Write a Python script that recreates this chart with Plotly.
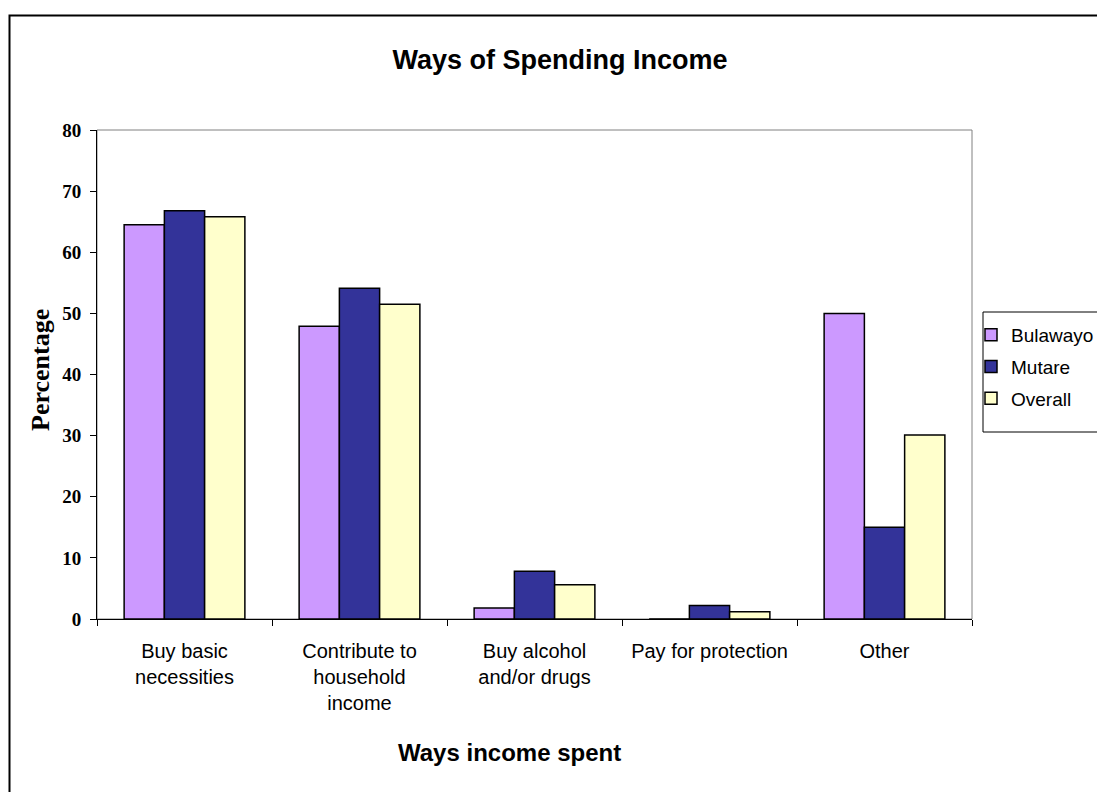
import plotly.graph_objects as go

categories = ["Buy basic<br>necessities", "Contribute to<br>household<br>income",
              "Buy alcohol<br>and/or drugs", "Pay for protection", "Other"]
bulawayo = [64.5, 47.9, 1.8, 0, 50.0]
mutare = [66.8, 54.1, 7.8, 2.2, 15.0]
overall = [65.8, 51.5, 5.6, 1.2, 30.1]
series_names = ["Bulawayo", "Mutare", "Overall"]
series_colors = ["#CC99FF", "#333399", "#FFFFCC"]
y_ticks = [0, 10, 20, 30, 40, 50, 60, 70, 80]

W, H = 1097, 792
L, R, T, B = 97, 1097 - 972, 130, 792 - 619
pw, ph = W - L - R, H - T - B

def px_x(p):
    return (p - L) / pw

def px_y(p):
    return (H - B - p) / ph

fig = go.Figure()
for name, vals, col in zip(series_names, [bulawayo, mutare, overall], series_colors):
    fig.add_trace(go.Bar(x=categories, y=vals, name=name, legendgroup=name,
                         marker=dict(color=col, line=dict(color="black", width=1.5))))

fig.update_layout(
    width=W, height=H,
    margin=dict(l=L, r=R, t=T, b=B, autoexpand=False),
    paper_bgcolor="white", plot_bgcolor="white",
    barmode="group", bargap=0.31, bargroupgap=0,
    font=dict(family="Liberation Sans, Arial", color="black"),
    title=dict(text="<b>Ways of Spending Income</b>", x=560 / W, xref="container", xanchor="center",
               y=1 - 60 / H, yref="container", yanchor="middle",
               font=dict(size=27, family="Liberation Sans, Arial", color="black")),
    legend=dict(x=px_x(971), y=px_y(316), xanchor="left", yanchor="top",
                borderwidth=0, bgcolor="rgba(0,0,0,0)",
                font=dict(size=19, family="Liberation Sans, Arial", color="black"),
                tracegroupgap=4, itemwidth=30),
    showlegend=True,
)

fig.update_xaxes(showline=True, linecolor="black", linewidth=1, mirror=False,
                 ticks="outside", ticklen=6, tickcolor="black", tickson="boundaries",
                 tickfont=dict(size=20, family="Liberation Sans, Arial", color="black"),
                 ticklabelstandoff=14, showgrid=False, automargin=False)
fig.update_yaxes(range=[0, 80], tickvals=y_ticks, showline=True, linecolor="black", linewidth=1,
                 ticks="outside", ticklen=6, tickcolor="black", ticklabelstandoff=5,
                 tickfont=dict(size=19, family="Liberation Serif, Times New Roman", color="black",
                               weight="bold"),
                 showgrid=False, zeroline=False, automargin=False)

# plot-area border (gray top/right), outer chart frame, legend box
fig.add_shape(type="rect", xref="paper", yref="paper", x0=0, x1=1, y0=0, y1=1,
              line=dict(color="#808080", width=1), layer="below")
fig.add_shape(type="rect", xref="paper", yref="paper", x0=px_x(9.5), x1=px_x(1120),
              y0=px_y(820), y1=px_y(15.5), line=dict(color="black", width=2), layer="below")
fig.add_shape(type="rect", xref="paper", yref="paper", x0=px_x(983), x1=px_x(1120),
              y0=px_y(432), y1=px_y(312), line=dict(color="black", width=1), layer="below")

fig.add_annotation(text="<b>Ways income spent</b>", xref="paper", yref="paper",
                   x=px_x(509), y=px_y(752), xanchor="center", yanchor="middle", showarrow=False,
                   font=dict(size=24, family="Liberation Sans, Arial", color="black"))
fig.add_annotation(text="<b>Percentage</b>", xref="paper", yref="paper", textangle=-90,
                   x=px_x(40), y=px_y(370), xanchor="center", yanchor="middle", showarrow=False,
                   font=dict(size=26, family="Liberation Serif, Times New Roman", color="black"))

fig.write_html("out.html", config={"displayModeBar": False},
               post_script="document.body.style.margin='0';")
